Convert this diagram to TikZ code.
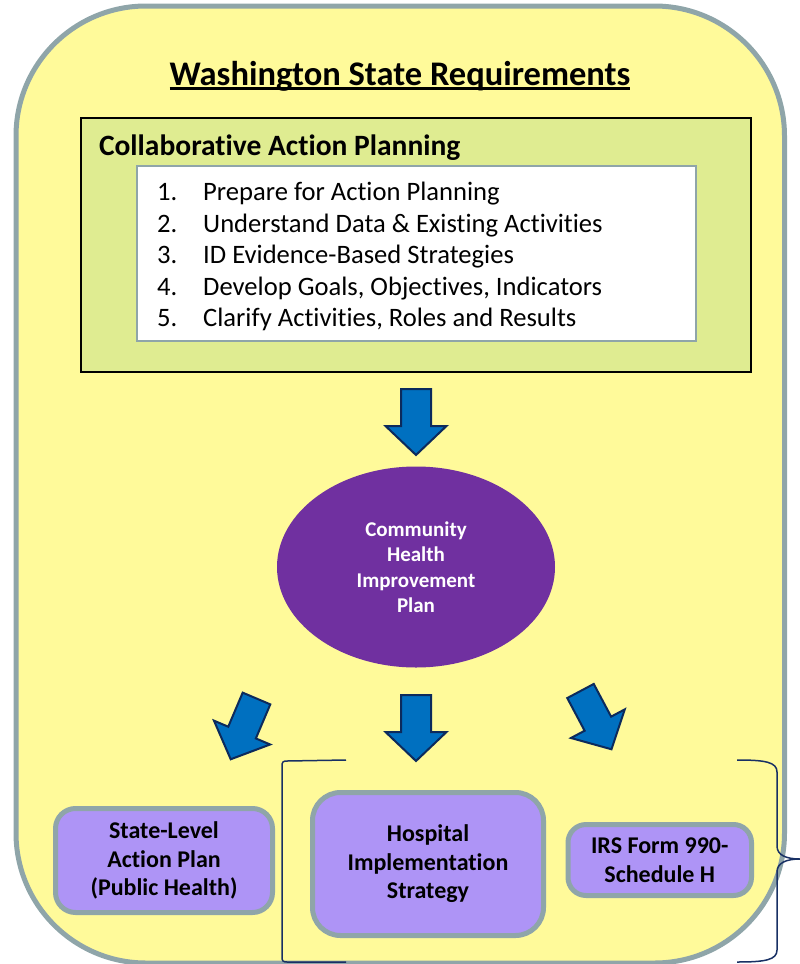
\documentclass[tikz,border=0pt]{standalone}
\usepackage{fontspec}
\setmainfont{Carlito}[Ligatures=NoCommon]
\usetikzlibrary{shapes.geometric}
\definecolor{bgyellow}{RGB}{255,250,154}
\definecolor{outerline}{RGB}{143,165,169}
\definecolor{greenfill}{RGB}{223,236,145}
\definecolor{chipurple}{RGB}{112,48,160}
\definecolor{boxfill}{RGB}{174,148,246}
\definecolor{arrowblue}{RGB}{0,112,192}
\definecolor{arrownavy}{RGB}{12,42,92}
\definecolor{bracenavy}{RGB}{24,48,100}
\tikzset{
  outerframe/.style={draw=outerline, line width=5pt, fill=bgyellow, rounded corners=130pt},
  greenframe/.style={draw=black, line width=2.5pt, fill=greenfill},
  listframe/.style={draw=outerline, line width=2pt, fill=white},
  plainlabel/.style={inner sep=0pt, outer sep=0pt},
  listtext/.style={inner sep=0pt, anchor=base west, font=\fontsize{26.6}{31.5}\selectfont},
  planbox/.style={draw=outerline, line width=5pt, fill=boxfill, align=center, inner sep=0pt,
    font=\bfseries\fontsize{24}{28.5}\selectfont},
  arrowbody/.style={fill=arrowblue, draw=arrownavy, line width=2pt, line join=miter},
  bracestyle/.style={draw=bracenavy, line width=1.5pt},
  blockarrow/.pic={\path[arrowbody] (-15,0) -- (15,0) -- (15,37) -- (30.5,37) -- (0,66) -- (-30.5,37) -- (-15,37) -- cycle;}
}
\begin{document}
\begin{tikzpicture}[x=1pt,y=-1pt]
\useasboundingbox (0,0) rectangle (800,964);
% outer frame
\path[outerframe] (16,6) rectangle (784.5,963);
% title
\node[plainlabel, anchor=base, font=\bfseries\fontsize{34.5}{41}\selectfont] (title) at (400,85) {Washington State Requirements};
\draw[line width=2.5pt] ([yshift=-3.7pt]title.base west) -- ([yshift=-3.7pt]title.base east);
% collaborative box
\path[greenframe] (81,118) rectangle (751,372);
\node[plainlabel, anchor=base west, font=\bfseries\fontsize{29.5}{35}\selectfont] (cap) at (99,155) {Collaborative Action Planning};
\path[listframe] (137,166) rectangle (696,341);
\foreach \i/\t [count=\k from 0] in {1/Prepare for Action Planning, 2/Understand Data \& Existing Activities, 3/ID Evidence-Based Strategies, 4/{Develop Goals, Objectives, Indicators}, 5/{Clarify Activities, Roles and Results}}{
  \node[listtext] (num\i) at (157,200.7+31.5*\k) {\i.};
  \node[listtext] (item\i) at (203,200.7+31.5*\k) {\t};
}
% arrows
\pic at (416,389) {blockarrow};
\pic at (416,695) {blockarrow};
\pic[rotate=-23] at (256.5,698.5) {blockarrow};
\pic[rotate=28] at (580.5,691) {blockarrow};
% ellipse
\node[ellipse, fill=chipurple, minimum width=278pt, minimum height=201pt, inner sep=0pt,
  text=white, align=center, font=\bfseries\fontsize{21}{25.5}\selectfont] (chip) at (416,567)
  {Community\\Health\\Improvement\\Plan};
% bottom boxes
\node[planbox, rounded corners=20pt, minimum width=217pt, minimum height=104pt] (state) at (164,860.5)
  {State-Level\\Action Plan\\(Public Health)};
\node[planbox, rounded corners=28pt, minimum width=231pt, minimum height=143pt] (hosp) at (428,864)
  {Hospital\\Implementation\\Strategy};
\node[planbox, rounded corners=18pt, minimum width=183.5pt, minimum height=71pt] (irs) at (659.75,860)
  {IRS Form 990-\\Schedule H};
% brackets
\path[bracestyle] (346,760) -- (287,761) .. controls (283,761) and (282,762) .. (282,766)
  -- (282,957) .. controls (282,961) and (283,962) .. (287,962) -- (346,962);
\path[bracestyle] (737,760) .. controls (765,760) and (777,762) .. (777,772) -- (777,846)
  .. controls (777,855) and (786,859) .. (800,859)
  .. controls (786,859) and (777,863) .. (777,872) -- (777,950)
  .. controls (777,960) and (765,962) .. (737,962);
\end{tikzpicture}
\end{document}
